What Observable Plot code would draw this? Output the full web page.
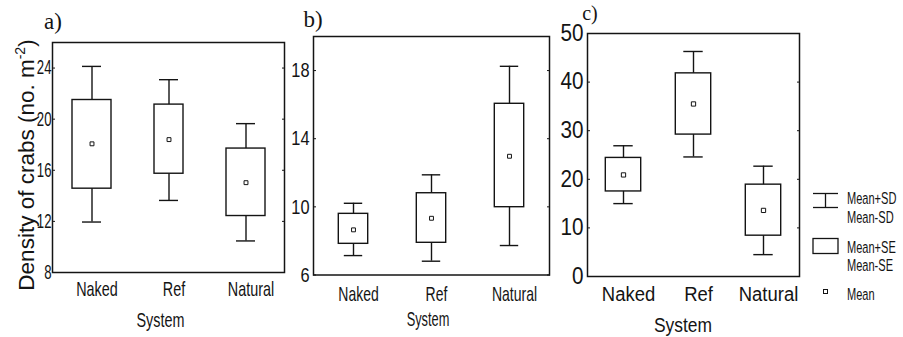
<!DOCTYPE html>
<html><head><meta charset="utf-8">
<script src="https://cdn.jsdelivr.net/npm/d3@7"></script>
<script src="https://cdn.jsdelivr.net/npm/@observablehq/plot@0.6"></script>
<style>
html,body{margin:0;padding:0;background:#fff;}
#wrap{position:relative;width:903px;height:337px;overflow:hidden;background:#fff;}
#wrap > svg{position:absolute;top:0;overflow:visible;}
</style></head><body><div id="wrap"></div>
<script>
// ---- data ----
const systems = ["Naked", "Ref", "Natural"];

const aMean = [18.07, 18.40, 15.03];
const aSEhi = [21.50, 21.14, 17.70];
const aSElo = [14.56, 15.73, 12.42];
const aSDhi = [24.13, 23.09, 19.65];
const aSDlo = [11.95, 13.64, 10.47];
const aTicks = [8, 12, 16, 20, 24];

const bMean = [8.65, 9.33, 12.97];
const bSEhi = [9.59, 10.80, 16.05];
const bSElo = [7.83, 7.89, 9.98];
const bSDhi = [10.21, 11.88, 18.25];
const bSDlo = [7.14, 6.81, 7.73];
const bTicks = [6, 10, 14, 18];

const cMean = [20.9, 35.5, 13.6];
const cSEhi = [24.4, 41.8, 18.9];
const cSElo = [17.5, 29.2, 8.4];
const cSDhi = [26.9, 46.3, 22.7];
const cSDlo = [15.0, 24.6, 4.5];
const cTicks = [0, 10, 20, 30, 40, 50];

const legendLabels = [["Mean+SD", "Mean-SD"], ["Mean+SE", "Mean-SE"], ["Mean"]];

// ---- helpers ----
const INK = "#141414";
const SANS = "'Liberation Sans', Arial, Helvetica, sans-serif";
const SERIF = "'Liberation Serif', 'Times New Roman', serif";

function squeeze(root, selector, s) {
  root.querySelectorAll(selector).forEach(el => {
    const t = el.getAttribute("transform") || "";
    let x = parseFloat(el.getAttribute("x"));
    if (!isFinite(x)) x = 0;
    el.setAttribute("transform", `${t} translate(${x},0) scale(${s},1) translate(${-x},0)`);
  });
}

function panel(o) {
  const rows = systems.map((s, i) => ({system: s, mean: o.mean[i], seHi: o.seHi[i], seLo: o.seLo[i], sdHi: o.sdHi[i], sdLo: o.sdLo[i]}));
  const boxMarks = systems.map(s => Plot.barY(rows.filter(r => r.system === s), {
    x: "system", y1: "seLo", y2: "seHi", fill: "white", stroke: INK, strokeWidth: 1.4,
    insetLeft: o.boxInset[s], insetRight: o.boxInset[s]
  }));
  const svg = Plot.plot({
    width: o.width, height: 337,
    marginLeft: o.ml, marginRight: o.mr, marginTop: o.mt, marginBottom: o.mb,
    style: {fontFamily: SANS, background: "transparent", color: INK, overflow: "visible"},
    x: {type: "band", domain: systems, padding: 0},
    y: {domain: o.domain},
    marks: [
      Plot.ruleX(rows, {x: "system", y1: "sdLo", y2: "sdHi", stroke: INK, strokeWidth: 1.4}),
      Plot.tickY(rows, {x: "system", y: "sdHi", stroke: INK, strokeWidth: 1.4, insetLeft: o.capInset, insetRight: o.capInset}),
      Plot.tickY(rows, {x: "system", y: "sdLo", stroke: INK, strokeWidth: 1.4, insetLeft: o.capInset, insetRight: o.capInset}),
      ...boxMarks,
      Plot.dot(rows, {x: "system", y: "mean", symbol: "square", r: o.r, stroke: INK, strokeWidth: 1, fill: "white"}),
      Plot.frame({stroke: INK, strokeWidth: 1.5}),
      Plot.axisY({ticks: o.ticks, anchor: "left", tickSize: 3, dx: 3, tickFormat: () => "", stroke: INK, label: null}),
      Plot.axisY({ticks: o.ticks, anchor: "right", tickSize: 3, dx: -3, tickFormat: () => "", stroke: INK, label: null}),
      Plot.axisY({ticks: o.ticks, anchor: "left", tickSize: 0, tickPadding: o.padY, fontSize: o.fontY, fill: INK, label: null}),
      Plot.axisX({anchor: "bottom", tickSize: 0, tickPadding: o.padX, fontSize: o.fontX, fill: INK, dx: 5, label: null}),
      Plot.text(["System"], {text: d => d, frameAnchor: "bottom", lineAnchor: "top", dx: o.sysDx, dy: o.sysDy, fontSize: o.fontSys, fill: INK})
    ]
  });
  svg.style.left = o.left + "px";
  squeeze(svg, 'g[aria-label="y-axis tick label"] text', o.sy);
  squeeze(svg, 'g[aria-label="x-axis tick label"] text', o.sx);
  squeeze(svg, 'g[aria-label="text"] text', o.ss);
  const sel = d3.select(svg);
  sel.append("text")
    .attr("x", o.tag.x).attr("y", o.tag.y)
    .attr("font-family", SERIF).attr("font-size", o.tag.size).attr("fill", INK)
    .text(o.tag.text);
  return svg;
}

const wrap = document.getElementById("wrap");

const svgA = panel({
  mean: aMean, seHi: aSEhi, seLo: aSElo, sdHi: aSDhi, sdLo: aSDlo, ticks: aTicks, domain: [8, 26],
  left: 0, width: 290, ml: 52, mr: 6, mt: 42, mb: 65,
  boxInset: {Naked: 19, Ref: 24, Natural: 19}, capInset: 29, r: 2.2,
  fontY: 20, padY: 1, sy: 0.66, fontX: 20, padX: 9, sx: 0.72,
  fontSys: 20, sysDx: -8, sysDy: 40, ss: 0.72,
  tag: {text: "a)", x: 53, y: 29, size: 23}
});
wrap.appendChild(svgA);
// y-axis title with superscript
const title = d3.select(svgA).append("text")
  .attr("transform", "translate(34,165) rotate(-90)")
  .attr("text-anchor", "middle")
  .attr("font-family", SANS).attr("font-size", 22.5).attr("fill", INK);
title.append("tspan").text("Density of crabs (no. m");
title.append("tspan").attr("font-size", 14).attr("dy", -9).text("-2");
title.append("tspan").attr("dy", 9).text(")");

const svgB = panel({
  mean: bMean, seHi: bSEhi, seLo: bSElo, sdHi: bSDhi, sdLo: bSDlo, ticks: bTicks, domain: [6, 20],
  left: 290, width: 265, ml: 23, mr: 6, mt: 36, mb: 62.5,
  boxInset: {Naked: 24.3, Ref: 24.3, Natural: 24.3}, capInset: 29.8, r: 2.2,
  fontY: 21, padY: 4, sy: 0.78, fontX: 20, padX: 12, sx: 0.7,
  fontSys: 20, sysDx: -3.5, sysDy: 37, ss: 0.64,
  tag: {text: "b)", x: 23, y: 27, size: 23}
});
wrap.appendChild(svgB);

const svgC = panel({
  mean: cMean, seHi: cSEhi, seLo: cSElo, sdHi: cSDhi, sdLo: cSDlo, ticks: cTicks, domain: [0, 50],
  left: 555, width: 250, ml: 32, mr: 6, mt: 33, mb: 61,
  boxInset: {Naked: 17.3, Ref: 17.3, Natural: 17.3}, capInset: 25.3, r: 2.4,
  fontY: 23, padY: 4, sy: 0.9, fontX: 21, padX: 10, sx: 0.88,
  fontSys: 21, sysDx: -10.5, sysDy: 40.5, ss: 0.83,
  tag: {text: "c)", x: 35, y: 20, size: 20}
});
wrap.appendChild(svgC);

// ---- legend ----
const leg = d3.select(wrap).append("svg")
  .attr("width", 98).attr("height", 337)
  .style("left", "805px").style("font-family", SANS);
const g = leg.append("g").attr("stroke", INK).attr("stroke-width", 1.3).attr("fill", "none");
// whisker glyph
g.append("line").attr("x1", 8).attr("x2", 33).attr("y1", 193.5).attr("y2", 193.5);
g.append("line").attr("x1", 20.5).attr("x2", 20.5).attr("y1", 193.5).attr("y2", 207.5);
g.append("line").attr("x1", 8).attr("x2", 33).attr("y1", 207.5).attr("y2", 207.5);
// box glyph
g.append("rect").attr("x", 8).attr("y", 238.5).attr("width", 25).attr("height", 15).attr("fill", "white");
// mean glyph
g.append("rect").attr("x", 18.5).attr("y", 289.5).attr("width", 4).attr("height", 4).attr("stroke-width", 1).attr("fill", "white");
const baselines = [[204, 223], [253, 271.5], [300]];
legendLabels.forEach((grp, i) => grp.forEach((t, j) => {
  leg.append("text").attr("x", 42).attr("y", baselines[i][j]).attr("font-size", 16.5).attr("fill", INK).text(t);
}));
squeeze(leg.node(), "text", 0.67);
</script>
</body></html>
